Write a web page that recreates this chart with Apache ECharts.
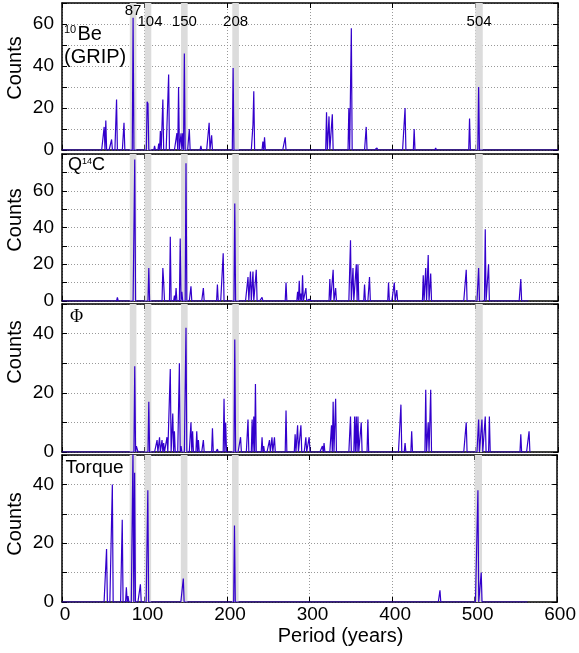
<!DOCTYPE html>
<html>
<head>
<meta charset="utf-8">
<script src="https://cdn.jsdelivr.net/npm/echarts@6/dist/echarts.min.js"></script>
<style>html,body{margin:0;padding:0;background:#fff}#c{width:579px;height:653px}</style>
</head>
<body>
<div id="c"></div>
<script>
// ---- data ----
const xTicks = [0, 100, 200, 300, 400, 500, 600];
const bandStart = [82, 100, 144, 206, 500];
const bandEnd   = [90, 108, 152, 214, 509];
const bandLabels = ['87', '104', '150', '208', '504'];

const beP = [51,53,60,66,75,86,103,104,112,117,119,122,129,139,141,144,146,148,154,168,178,181,207,231,232,243,245,270,320,323,327,347,350,368,381,415,426,452,493,504];
const beC = [11,14,5,24,13,63,23,22,2,3,9,24,36,8,30,8,8,46,10,2,13,7,39,12,28,4,6,6,18,16,17,20,58,11,1,20,10,1,15,30];

const qP = [67,88,105,107,122,123,131,136,138,143,145,150,156,171,188,195,209,225,228,231,235,242,271,285,287,289,291,295,299,315,324,328,331,349,352,356,358,366,372,395,402,405,437,440,443,446,489,504,512,516,555];
const qC = [2,77,18,1,18,10,35,3,7,34,5,75,8,7,9,26,53,13,16,16,17,2,10,5,11,4,14,7,1,1,12,17,7,33,18,20,20,9,13,10,10,6,14,18,25,15,17,18,39,20,12];

const phiP = [88,90,91,105,115,118,121,123,127,131,134,136,142,144,150,156,158,163,165,171,182,188,196,198,209,216,225,230,232,234,242,244,251,254,257,271,282,285,289,295,299,315,317,326,328,331,349,354,356,358,362,370,410,415,423,440,443,446,489,504,508,512,517,555,565];
const phiC = [29,2,1,17,4,5,4,3,5,28,13,7,30,2,42,10,7,7,4,4,8,1,18,10,38,5,11,11,12,23,5,2,4,5,5,14,6,9,9,5,5,2,3,9,17,18,12,12,12,12,10,11,16,3,7,21,10,21,10,11,11,12,12,6,7];

const tP = [54,61,73,78,80,86,88,95,104,147,209,458,504,508];
const tC = [18,40,28,5,2,52,44,6,38,8,26,4,38,10];

const panelEnd = [600, 564, 566, 564];
const yMax = [70, 80, 50, 50];

// ---- layout ----
const FONT = 'Liberation Sans, Arial, sans-serif';
const LINE = '#3300cc';
const tops = [3, 154, 304, 455];
const heights = [147, 147, 148, 147];

function build(periods, counts, end) {
  const m = {};
  periods.forEach((p, i) => { m[p] = counts[i]; });
  const d = [];
  for (let x = 0; x <= end; x++) d.push([x, m[x] || 0]);
  return d;
}
const seriesData = [
  build(beP, beC, panelEnd[0]),
  build(qP, qC, panelEnd[1]),
  build(phiP, phiC, panelEnd[2]),
  build(tP, tC, panelEnd[3])
];

const grids = [], xAxes = [], yAxes = [], series = [];
const axisLine = { show: true, onZero: false, lineStyle: { color: '#000', width: 1.5 } };
const split = { show: true, lineStyle: { color: '#999', type: [1, 2], width: 1 } };
for (let i = 0; i < 4; i++) {
  grids.push({ left: 62, right: 21, top: tops[i], height: heights[i] });
}
for (let i = 0; i < 4; i++) {
  xAxes.push({
    type: 'value', gridIndex: i, min: 0, max: 600, interval: 100, position: 'bottom',
    axisLine, axisTick: { show: true, inside: true, length: 5, lineStyle: { color: '#000' } },
    splitLine: split,
    axisLabel: i === 3 ? { show: true, color: '#000', fontSize: 19, fontFamily: FONT, margin: 3, padding: [0, 0, 0, 6],
      customValues: xTicks } : { show: false },
    name: i === 3 ? 'Period (years)' : '', nameLocation: 'middle', nameGap: 24,
    nameTextStyle: { color: '#000', fontSize: 20, fontFamily: FONT, padding: [0, 0, 0, 62] }
  });
  yAxes.push({
    type: 'value', gridIndex: i, min: 0, max: yMax[i], interval: 10, position: 'left',
    axisLine, axisTick: { show: true, inside: true, length: 5, lineStyle: { color: '#000' } },
    splitLine: split,
    axisLabel: { show: true, color: '#000', fontSize: 19, fontFamily: FONT, margin: 8,
      formatter: (v) => (v % 20 === 0 && v < yMax[i]) ? String(v) : '' }
  });
}
for (let i = 0; i < 4; i++) {
  xAxes.push({
    type: 'value', gridIndex: i, min: 0, max: 600, interval: 100, position: 'top',
    axisLine, axisTick: { show: true, inside: true, length: 5, lineStyle: { color: '#000' } },
    splitLine: { show: false }, axisLabel: { show: false }
  });
  yAxes.push({
    type: 'value', gridIndex: i, min: 0, max: yMax[i], interval: 10, position: 'right',
    axisLine, axisTick: { show: true, inside: true, length: 5, lineStyle: { color: '#000' } },
    splitLine: { show: false }, axisLabel: { show: false }
  });
}
for (let i = 0; i < 4; i++) {
  const areas = bandStart.map((s, k) => {
    const first = { xAxis: s };
    if (i === 0) {
      first.label = { show: true, formatter: bandLabels[k], position: 'insideTop',
        distance: k === 0 ? 0 : 11, offset: k === 1 ? [2, 0] : [0, 0],
        color: '#000', fontSize: 15, fontFamily: FONT };
    }
    return [first, { xAxis: bandEnd[k] }];
  });
  series.push({
    type: 'line', xAxisIndex: i, yAxisIndex: i, data: seriesData[i],
    showSymbol: false, symbol: 'none', sampling: null, animation: false, clip: true,
    lineStyle: { color: LINE, width: 1.2 },
    markArea: { silent: true, itemStyle: { color: '#dcdcdc', opacity: 1 },
      label: { show: false }, data: areas }
  });
}

const countsY = [68, 220, 352, 524];
const graphic = countsY.map(y => ({
  type: 'text', x: 15.5, y: y, rotation: Math.PI / 2,
  style: { text: 'Counts', fontSize: 20, fontFamily: FONT, fill: '#000', align: 'center', verticalAlign: 'middle' }
}));
const txt = (t, x, y, size, fam) => ({ type: 'text', x, y, z: 100,
  style: { text: t, fontSize: size, fontFamily: fam || FONT, fill: '#000', align: 'left', verticalAlign: 'middle' } });
graphic.push(
  txt('10', 64, 29.5, 11),
  txt('Be', 77.5, 34.5, 20),
  txt('(GRIP)', 64, 57, 20),
  txt('Q', 68, 165, 18),
  txt('14', 82, 161.5, 9),
  txt('C', 92, 165, 18),
  txt('Φ', 70, 317, 18, 'Liberation Serif, serif'),
  txt('Torque', 65.5, 467.5, 19)
);

const chart = echarts.init(document.getElementById('c'), null, { renderer: 'canvas' });
chart.setOption({
  animation: false,
  grid: grids, xAxis: xAxes, yAxis: yAxes, series, graphic
});
</script>
</body>
</html>
